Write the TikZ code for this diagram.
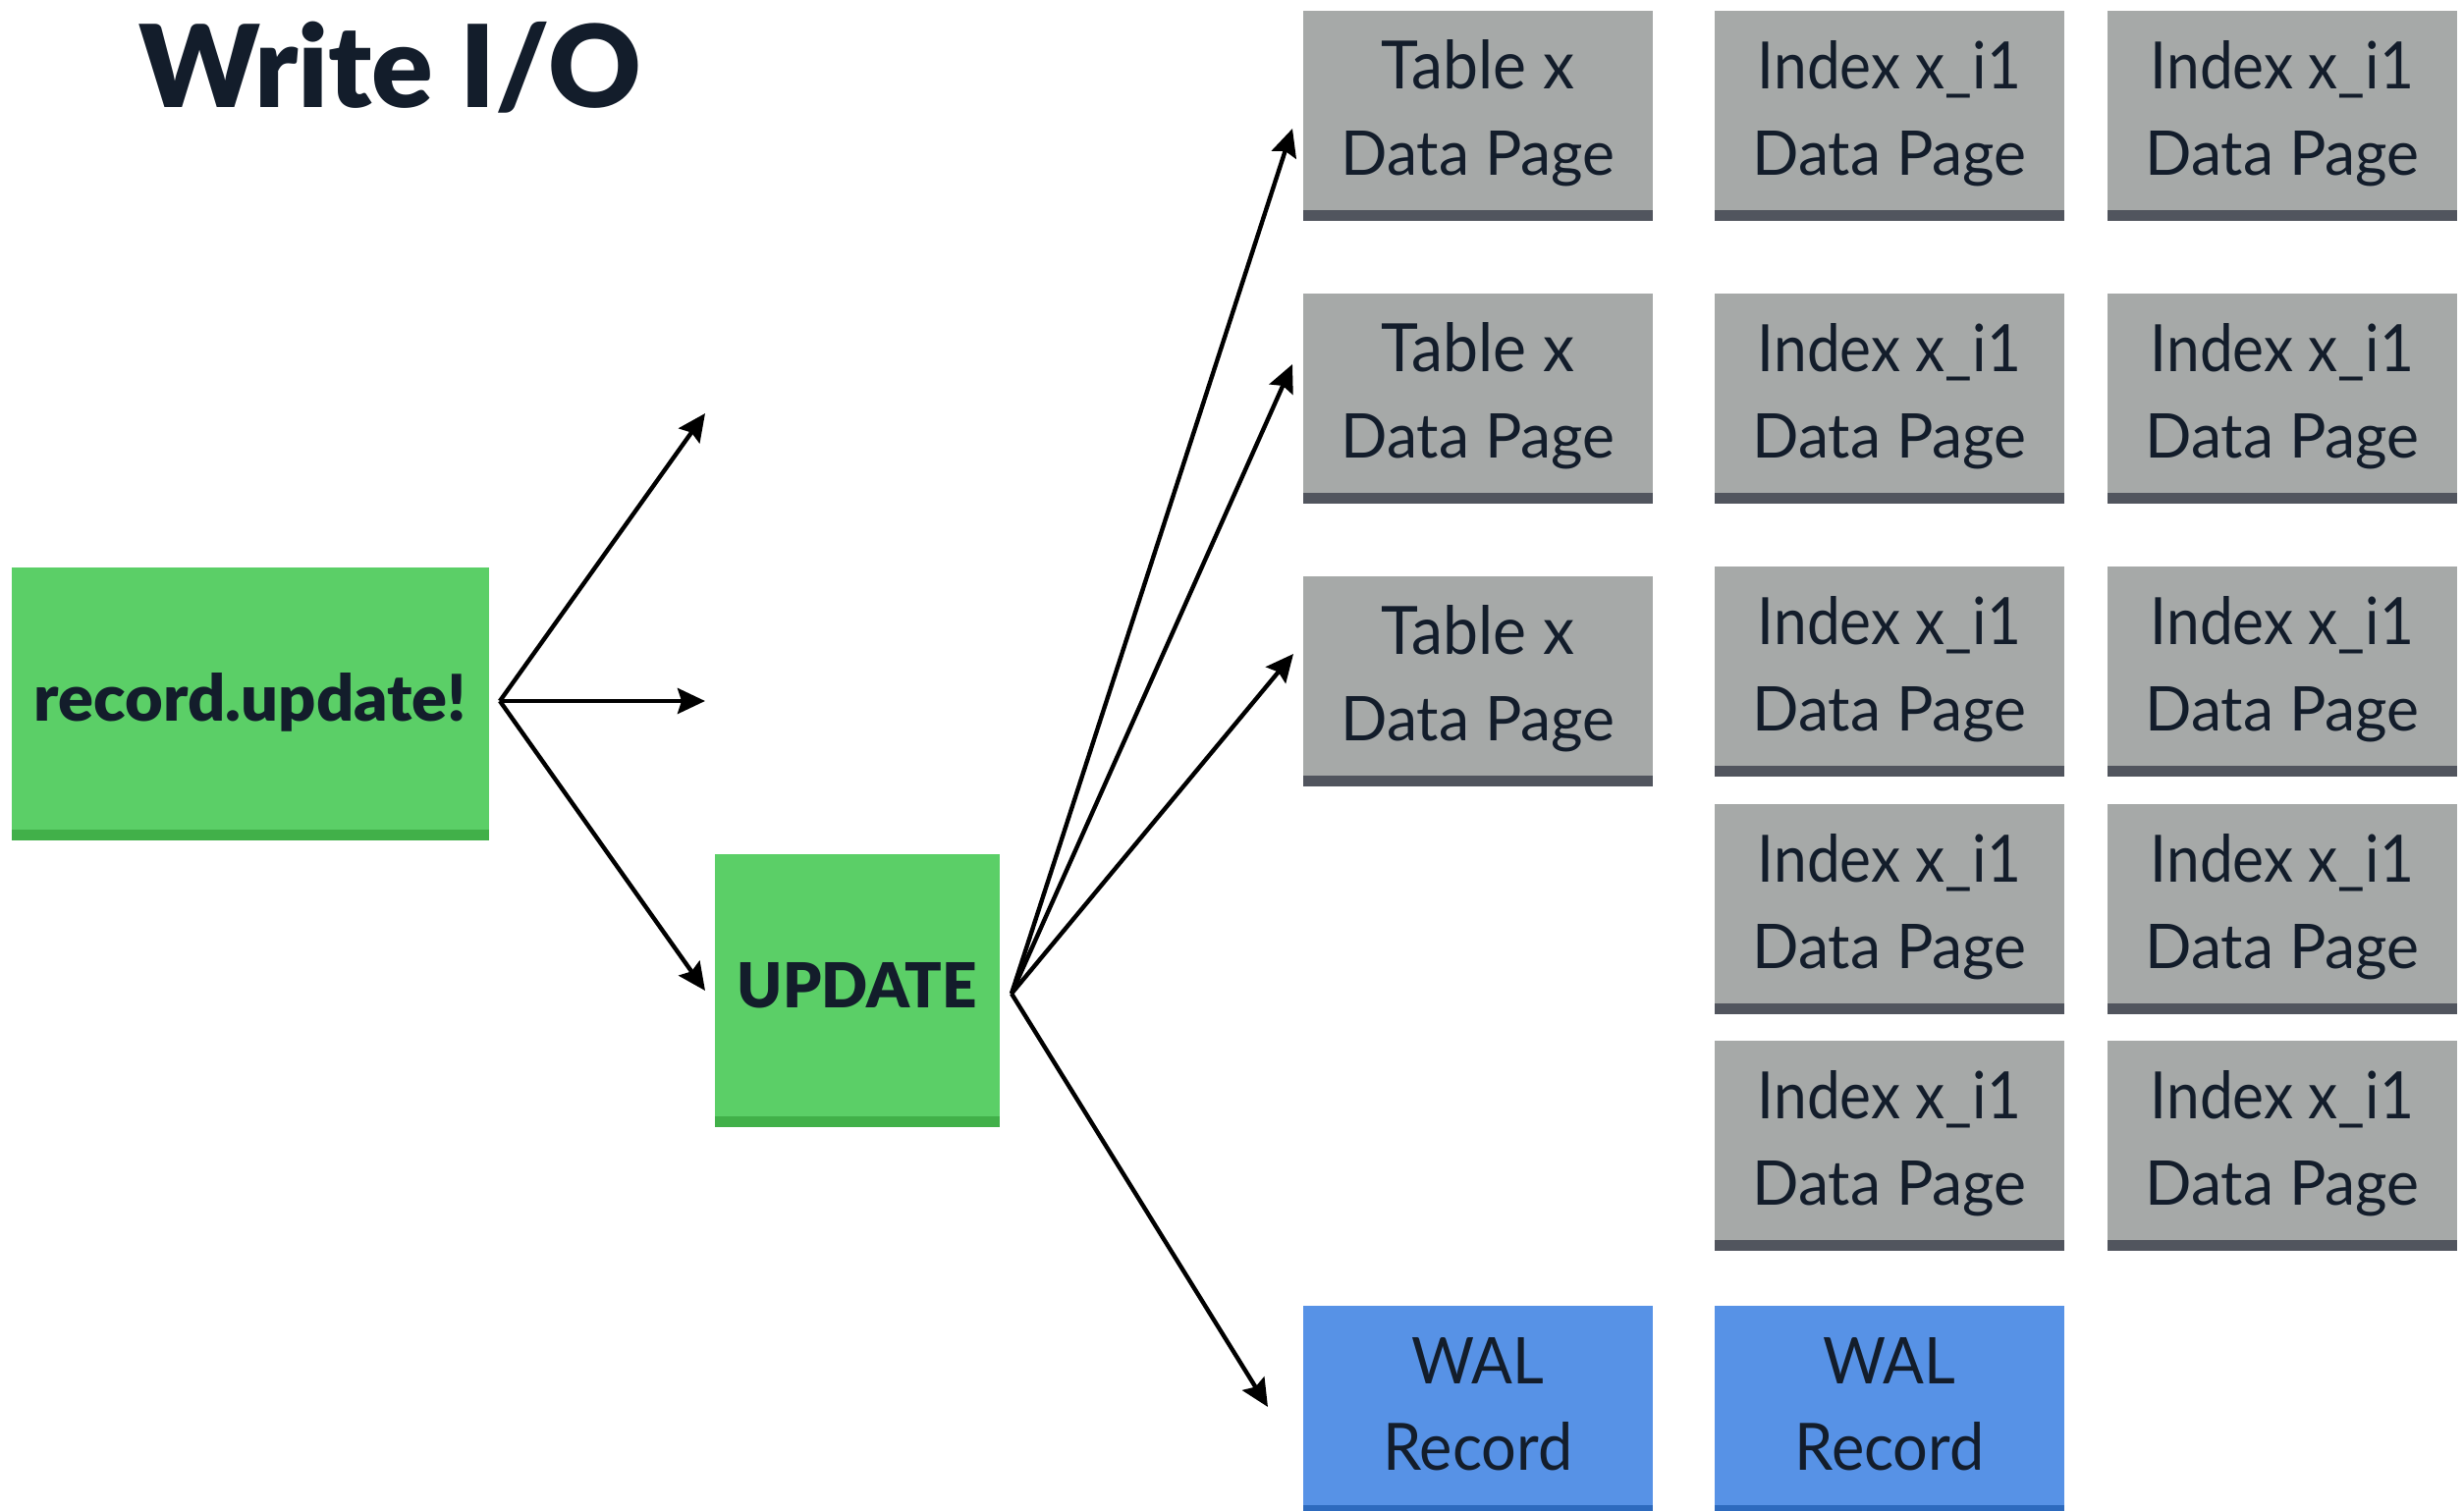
\documentclass[tikz,border=0pt]{standalone}
\usepackage{fontspec}
\usepackage{graphicx}
\setmainfont{Lato}
\newfontfamily\heavyfont{Lato Black}
\newfontfamily\cardfont{Lato}
\usetikzlibrary{arrows.meta,calc}

\definecolor{inkdark}{RGB}{19,29,43}
\definecolor{opgreen}{RGB}{91,207,103}
\definecolor{opgreenedge}{RGB}{65,176,73}
\definecolor{pagegray}{RGB}{166,169,168}
\definecolor{pagegrayedge}{RGB}{81,85,94}
\definecolor{walblue}{RGB}{87,146,230}
\definecolor{walblueedge}{RGB}{45,106,190}

\tikzset{
  block/.style={rectangle, inner sep=0pt, outer sep=0pt, anchor=north west},
  striped/.style={path picture={\fill[#1]
      ([yshift=11pt]path picture bounding box.south west)
      rectangle (path picture bounding box.south east);}},
  opbox/.style={block, fill=opgreen, striped=opgreenedge, minimum height=278pt},
  pagebox/.style={block, fill=pagegray, striped=pagegrayedge,
      minimum width=356pt, minimum height=214pt},
  walbox/.style={block, fill=walblue, striped=walblueedge,
      minimum width=356pt, minimum height=214pt},
  txt/.style={inner sep=0pt, outer sep=0pt, anchor=base, text=inkdark},
  flow/.style={line width=4.4pt, draw=black,
      -{Stealth[length=28pt, width=26pt, inset=4pt]}},
}

% a page/record card with two centred lines of text:
% name, style, corner, line 1, width, height, line 2, width, height
\newcommand\pagecard[9]{%
  \node[#2] (#1) at #3 {};
  \node[txt] (#1-a) at ($(#1.north)+(0,79)$)
    {\resizebox{#5pt}{#6pt}{\cardfont #4}};
  \node[txt] (#1-b) at ($(#1.north)+(0,167)$)
    {\resizebox{#8pt}{#9pt}{\cardfont #7}};
}

\begin{document}
\begin{tikzpicture}[x=1pt, y=-1pt]
  \useasboundingbox (0,0) rectangle (2509,1539);
  \clip (0,0) rectangle (2509,1539);

  % heading
  \node[txt, anchor=base west] (title) at (141,109)
    {\resizebox{512pt}{!}{\heavyfont Write I/O}};

  % application call and SQL statement
  \node[opbox, minimum width=486pt] (rec) at (12,578) {};
  \node[txt] (rec-t) at ($(rec.north)+(0,156)$)
    {\resizebox{440pt}{49pt}{\heavyfont record.update!}};
  \node[opbox, minimum width=290pt] (upd) at (728,870) {};
  \node[txt] (upd-t) at ($(upd.north)+(0,156)$)
    {\resizebox{244pt}{46pt}{\heavyfont UPDATE}};

  % table pages
  \pagecard{tab1}{pagebox}{(1327,11)}{Table x}{196}{50}{Data Page}{279}{45}
  \pagecard{tab2}{pagebox}{(1327,299)}{Table x}{196}{50}{Data Page}{279}{45}
  \pagecard{tab3}{pagebox}{(1327,587)}{Table x}{196}{50}{Data Page}{279}{45}

  % index pages
  \pagecard{ia1}{pagebox}{(1746,11)}{Index x\_i1}{268}{49}{Data Page}{279}{45}
  \pagecard{ia2}{pagebox}{(1746,299)}{Index x\_i1}{268}{49}{Data Page}{279}{45}
  \pagecard{ia3}{pagebox}{(1746,577)}{Index x\_i1}{268}{49}{Data Page}{279}{45}
  \pagecard{ia4}{pagebox}{(1746,819)}{Index x\_i1}{268}{49}{Data Page}{279}{45}
  \pagecard{ia5}{pagebox}{(1746,1060)}{Index x\_i1}{268}{49}{Data Page}{279}{45}
  \pagecard{ib1}{pagebox}{(2146,11)}{Index x\_i1}{268}{49}{Data Page}{279}{45}
  \pagecard{ib2}{pagebox}{(2146,299)}{Index x\_i1}{268}{49}{Data Page}{279}{45}
  \pagecard{ib3}{pagebox}{(2146,577)}{Index x\_i1}{268}{49}{Data Page}{279}{45}
  \pagecard{ib4}{pagebox}{(2146,819)}{Index x\_i1}{268}{49}{Data Page}{279}{45}
  \pagecard{ib5}{pagebox}{(2146,1060)}{Index x\_i1}{268}{49}{Data Page}{279}{45}

  % write-ahead log records
  \pagecard{wal1}{walbox}{(1327,1330)}{WAL}{135}{47}{Record}{193}{49}
  \pagecard{wal2}{walbox}{(1746,1330)}{WAL}{135}{47}{Record}{193}{49}

  % connector ends
  \coordinate (rec-out) at ($(rec.east)+(11,-3)$);
  \coordinate (free-up) at (718,421);
  \coordinate (free-mid) at (718,714);
  \coordinate (upd-in) at ($(upd.west)+(-10,0)$);
  \coordinate (upd-out) at ($(upd.east)+(12,3)$);
  \coordinate (tab1-in) at ($(tab1.west)+(-11,13)$);
  \coordinate (tab2-in) at ($(tab2.west)+(-11,-35)$);
  \coordinate (tab3-in) at ($(tab3.west)+(-10,-28)$);
  \coordinate (wal1-in) at ($(wal1.west)+(-36,-4)$);

  % fan-out arrows
  \draw[flow] (rec-out) -- (free-up);
  \draw[flow] (rec-out) -- (free-mid);
  \draw[flow] (rec-out) -- (upd-in);
  \draw[flow] (upd-out) -- (tab1-in);
  \draw[flow] (upd-out) -- (tab2-in);
  \draw[flow] (upd-out) -- (tab3-in);
  \draw[flow] (upd-out) -- (wal1-in);
\end{tikzpicture}
\end{document}
